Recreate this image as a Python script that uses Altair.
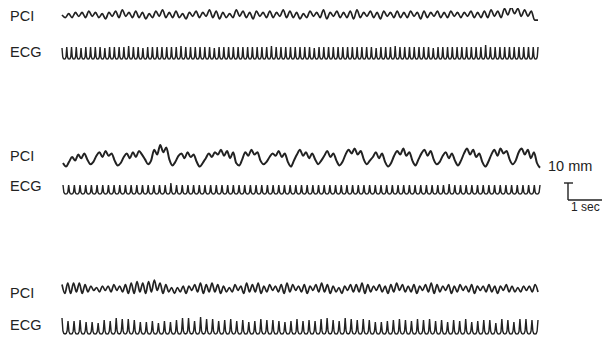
import altair as alt
import pandas as pd

# ---------------- data ----------------
# PCI deflections (small-division units, upward positive), evenly sampled along each trace
pci1 = [0,-2,1,-2,2,-1,2,-2,3,-1,2,-2,1,-3,2,-1,3,-2,4,-1,
        2,-2,3,-2,2,-3,1,-2,3,-1,4,-2,2,-2,3,-2,1,-3,2,-1,
        3,-2,2,-1,4,-2,3,-3,2,-2,1,-2,4,-1,3,-2,2,-3,3,-1,
        2,-2,3,-2,2,-1,4,-2,3,-2,2,-3,1,-2,3,-1,2,-2,4,-3,
        2,-1,3,-2,2,-2,3,-3,4,-2,2,-1,3,-2,2,-3,3,-1,2,-2,
        3,-2,2,-2,3,-1,2,-3,3,-2,2,-1,3,-2,2,-2,3,-1,2,-2,
        2,-1,3,-2,2,-2,3,-2,4,-1,3,-2,5,0,6,1,5,-1,4,-1,3,-4,-4]
pci2 = [-5,-8,-4,0,-3,2,-1,3,-2,-6,-4,1,4,0,5,1,3,-3,-7,-5,0,3,-1,4,0,5,2,-2,-6,-3,
        6,2,10,4,8,-2,-7,-4,1,3,-1,4,0,2,-4,-8,-5,-1,3,0,4,2,6,1,5,-1,4,-5,-7,-2,
        4,1,6,2,4,-3,-6,-4,0,3,1,5,0,3,-4,-8,-3,2,6,1,4,-1,3,-2,-6,-3,1,5,0,3,
        -3,-7,-4,2,6,3,7,2,5,-2,-6,-3,0,4,-1,3,-4,-8,-5,1,5,2,7,1,4,-3,-7,-2,3,6,
        1,5,-2,-6,-4,1,4,-1,3,-3,-7,-3,3,7,2,6,0,3,-4,-8,-4,2,6,1,7,3,5,-2,-6,-3,
        4,7,2,6,-1,4,-5,-9]
pci3 = [3,-3,4,-3,4,-2,4,-3,3,-2,2,-1,1,-2,2,-1,2,-2,3,-1,2,-2,3,-3,4,-3,5,-2,4,-3,
        5,-2,6,-1,4,-3,3,-2,1,-3,1,-2,2,-3,2,-1,3,-2,4,-3,3,-2,4,-2,3,-3,2,-2,1,-2,
        3,-1,2,-3,4,-2,3,-2,4,-3,2,-2,3,-1,2,-2,3,-3,4,-2,3,-1,2,-2,3,-3,2,-1,3,-2,
        4,-2,3,-3,2,-2,1,-3,2,-1,3,-2,3,-2,4,-3,3,-2,2,-1,3,-2,2,-3,3,-2,4,-1,3,-2,
        2,-2,3,-3,2,-1,3,-2,4,-3,3,-2,2,-1,3,-3,2,-2,3,-1,2,-2,3,-3,2,-1,2,-2,3,-2,
        2,-3,2,-1,3,-2,2,-2,1,-2,2,-1,2,-2,3,-2]

# ECG spike heights, one per beat (px)
ecg1 = [11,12,12,12,11,12,12,12,12,11,12,12,12,12,13,12,12,11,12,12,
        12,12,12,12,12,13,12,12,12,12,12,12,11,12,12,12,12,12,12,12,
        12,12,12,12,13,12,12,12,12,12,12,12,12,11,12,12,12,12,12,12,
        12,12,12,12,12,12,11,12,12,12,13,12,12,12,12,12,12,12,11,12,
        12,12,12,12,12,12,12,12,12,14,12,12,12,12,12,12,12,12,12,12]
ecg2 = [9,9,9,9,9,9,9,9,9,9,9,9,9,9,9,9,9,9,9,11,
        9,9,9,9,9,9,9,9,9,9,9,9,9,9,9,9,9,9,9,9,
        9,9,9,9,9,9,9,9,9,9,9,9,9,9,9,9,9,9,9,9,
        9,9,9,9,9,9,9,9,10,9,9,9,9,9,9,9,9,9,9,9,
        9,9,9,9]
ecg3 = [16,13,13,14,12,12,11,14,13,16,15,15,14,12,12,13,11,13,12,14,
        16,16,13,17,15,15,13,14,15,13,14,12,13,15,14,14,13,12,13,15,
        13,14,13,15,16,14,13,16,15,14,15,14,12,12,13,14,15,14,13,15,
        14,15,13,14,12,14,13,15,12,13,14,14,11,15,14,12,15,15,14]

row_labels = ["PCI", "ECG"]
scale_texts = ["10 mm", "1 sec"]

# ---------------- layout (page pixel coordinates) ----------------
rows = [
    dict(pci=pci1, pci_c=15, gain=1.3, pci_x=(62, 538), ecg=ecg1, ecg_b=59, ecg_x=(62, 538), lab=(17, 53), w=1.7),
    dict(pci=pci2, pci_c=157, gain=1.2, pci_x=(63, 540), ecg=ecg2, ecg_b=194, ecg_x=(63, 540), lab=(157, 187), w=2.0),
    dict(pci=pci3, pci_c=289, gain=1.5, pci_x=(62, 538), ecg=ecg3, ecg_b=334, ecg_x=(62, 538), lab=(294, 326), w=1.7),
]

pci_rows, ecg_rows, lab_rows = [], [], []
for r, d in enumerate(rows):
    vals = d["pci"]
    x0, x1 = d["pci_x"]
    step = (x1 - x0) / (len(vals) - 1)
    for k, v in enumerate(vals):
        pci_rows.append(dict(s=f"p{r}", i=k, x=x0 + k * step, y=d["pci_c"] - d["gain"] * v))
    amps = d["ecg"]
    x0, x1 = d["ecg_x"]
    T = (x1 - x0) / len(amps)
    b = d["ecg_b"]
    k = 0
    for j, a in enumerate(amps):
        xp = x0 + j * T
        for fx, fy in [(0.0, 1.0), (0.15, 0.2), (0.3, 0.03), (0.5, 0.0), (0.7, 0.03), (0.85, 0.2)]:
            ecg_rows.append(dict(s=f"e{r}", i=k, x=xp + fx * T, y=b - fy * a))
            k += 1
    ecg_rows.append(dict(s=f"e{r}", i=k, x=x1, y=b - amps[-1]))
    lab_rows.append(dict(x=10, y=d["lab"][0], t=row_labels[0]))
    lab_rows.append(dict(x=10, y=d["lab"][1], t=row_labels[1]))

pci_df = pd.DataFrame(pci_rows)
ecg_df = pd.DataFrame(ecg_rows)
lab_df = pd.DataFrame(lab_rows)

X = alt.Scale(domain=[8, 602], nice=False, zero=False)
Y = alt.Scale(domain=[8, 341], reverse=True, nice=False, zero=False)
INK = "#222222"

pci_layers = []
for r, d in enumerate(rows):
    pci_layers.append(
        alt.Chart(pci_df[pci_df.s == f"p{r}"]).mark_line(
            color=INK, strokeWidth=d["w"], interpolate="monotone"
        ).encode(
            x=alt.X("x:Q", scale=X, axis=None),
            y=alt.Y("y:Q", scale=Y, axis=None),
            order="i:Q",
        )
    )

ecg_layer = alt.Chart(ecg_df).mark_line(color=INK, strokeWidth=1.4).encode(
    x=alt.X("x:Q", scale=X, axis=None),
    y=alt.Y("y:Q", scale=Y, axis=None),
    detail="s:N",
    order="i:Q",
)

labels = alt.Chart(lab_df).mark_text(
    align="left", baseline="middle", font="Liberation Sans", fontSize=14.5, color=INK
).encode(
    x=alt.X("x:Q", scale=X, axis=None),
    y=alt.Y("y:Q", scale=Y, axis=None),
    text="t:N",
)

st_df = pd.DataFrame([
    dict(x=548, y=167, t=scale_texts[0], fs=14.5),
    dict(x=571, y=207, t=scale_texts[1], fs=12),
])
scale_text = alt.Chart(st_df).mark_text(
    align="left", baseline="middle", font="Liberation Sans", color=INK
).encode(
    x=alt.X("x:Q", scale=X, axis=None),
    y=alt.Y("y:Q", scale=Y, axis=None),
    text="t:N",
    size=alt.Size("fs:Q", scale=None, legend=None),
)

bar_df = pd.DataFrame([
    dict(x=568, x2=568, y=183, y2=200),
    dict(x=564, x2=573, y=183, y2=183),
    dict(x=568, x2=612, y=200, y2=200),
])
scale_bar = alt.Chart(bar_df).mark_rule(color=INK, strokeWidth=1.4).encode(
    x=alt.X("x:Q", scale=X, axis=None),
    x2="x2:Q",
    y=alt.Y("y:Q", scale=Y, axis=None),
    y2="y2:Q",
)

chart = alt.layer(*pci_layers, ecg_layer, labels, scale_text, scale_bar).properties(
    width=594,
    height=333,
    background="white",
    padding=0,
    autosize=alt.AutoSizeParams(type="none"),
).configure_view(stroke=None)

chart.save("out.html", embed_options={"renderer": "svg", "actions": False})
